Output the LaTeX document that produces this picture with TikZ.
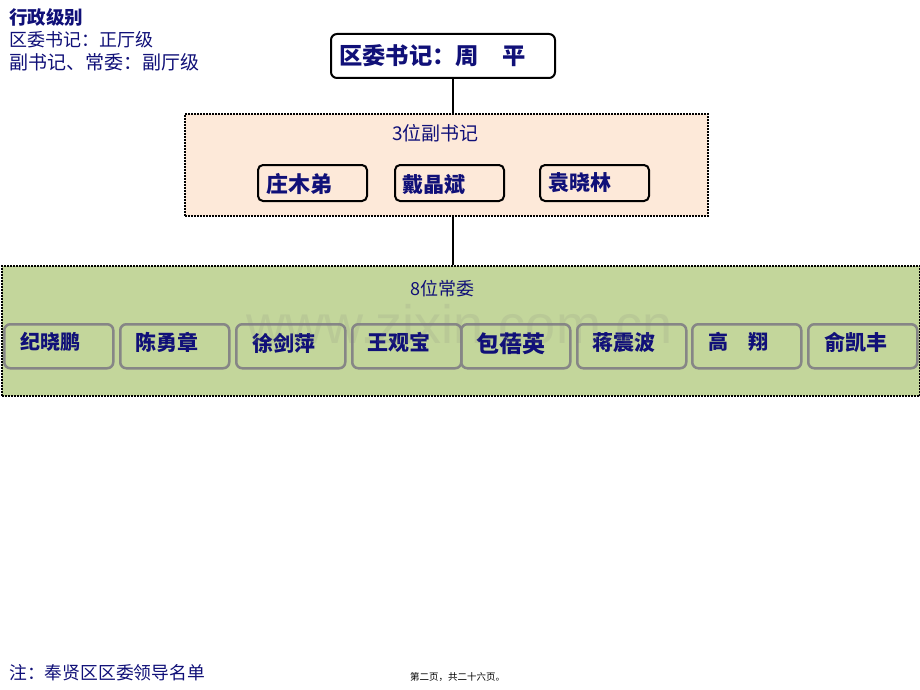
\documentclass[tikz,border=0pt]{standalone}
\usepackage{fontspec}
\setmainfont{Noto Sans CJK SC}
\newfontfamily\wmfont{Liberation Sans}
\definecolor{navy}{RGB}{16,16,120}
\definecolor{peach}{RGB}{253,233,217}
\definecolor{olivegreen}{RGB}{195,214,155}
\begin{document}
\begin{tikzpicture}[x=1pt,y=-1pt,
  namebox/.style={draw=black,line width=2pt,rounded corners=5pt,minimum width=109pt,minimum height=36pt,inner sep=0pt,anchor=north west,fill=peach},
  grbox/.style={draw=gray!95,line width=2.5pt,rounded corners=6pt,minimum width=109pt,minimum height=44pt,inner sep=0pt,anchor=north west},
  grp/.style={draw=black,line width=2pt,dash pattern=on 1.6pt off 1.4pt,inner sep=0pt,anchor=north west},
  nm/.style={text=navy,font=\fontsize{21}{21}\selectfont\bfseries,anchor=west,inner sep=0pt},
  txt/.style={text=navy,anchor=west,inner sep=0pt,font=\fontsize{18}{18}\selectfont},
  conn/.style={draw=black,line width=1.5pt}]
\useasboundingbox[fill=white] (0,0) rectangle (920,690);

% header text
\node[txt,font=\fontsize{18.5}{18.5}\selectfont\bfseries] (h1) at (9,17) {行政级别};
\node[txt] (h2) at (9,40) {区委书记：正厅级};
\node[txt,font=\fontsize{19}{19}\selectfont] (h3) at (9,62) {副书记、常委：副厅级};

% secretary
\node[draw=black,line width=2pt,rounded corners=6pt,fill=white,minimum width=224pt,minimum height=44pt,anchor=north west,inner sep=0pt] (sec) at (330,33) {};
\node[nm,font=\fontsize{23.3}{23.3}\selectfont\bfseries] (sect) at (339,56) {区委书记：周　平};

% group 1
\node[grp,fill=peach,minimum width=523pt,minimum height=102pt] (g1) at (184,113) {};
\node[txt,font=\fontsize{19}{19}\selectfont] (g1t) at (392,133) {3位副书记};
\node[namebox] (d1) at (257,164) {};
\node[namebox] (d2) at (394,164) {};
\node[namebox] (d3) at (539,164) {};
\node[nm,font=\fontsize{22}{22}\selectfont\bfseries] (d1t) at (266,184) {庄木弟};
\node[nm] (d2t) at (402,184) {戴晶斌};
\node[nm] (d3t) at (548,183) {袁晓林};

% group 2
\node[grp,fill=olivegreen,minimum width=918pt,minimum height=130pt] (g2) at (1,265) {};
\node[txt] (g2t) at (410,289) {8位常委};
\node[grbox] (c1) at (3,323) {};
\node[grbox] (c2) at (119,323) {};
\node[grbox] (c3) at (235,323) {};
\node[grbox] (c4) at (351,323) {};
\node[grbox] (c5) at (460,323) {};
\node[grbox] (c6) at (576,323) {};
\node[grbox] (c7) at (691,323) {};
\node[grbox] (c8) at (807,323) {};
\node[nm,font=\fontsize{20}{20}\selectfont\bfseries] (c1t) at (20,342) {纪晓鹏};
\node[nm] (c2t) at (135,342) {陈勇章};
\node[nm] (c3t) at (252,343) {徐剑萍};
\node[nm] (c4t) at (367,342) {王观宝};
\node[nm,font=\fontsize{23}{23}\selectfont\bfseries] (c5t) at (476,344) {包蓓英};
\node[nm] (c6t) at (592,343) {蒋震波};
\node[nm,font=\fontsize{20}{20}\selectfont\bfseries] (c7t) at (708,342) {高　翔};
\node[nm] (c8t) at (824,342) {俞凯丰};

% connectors
\coordinate (lx) at (453,0);
\draw[conn] (sec.south -| lx) -- (g1.north -| lx);
\draw[conn] (g1.south -| lx) -- (g2.north -| lx);

% footer
\node[txt,font=\fontsize{17.8}{17.8}\selectfont] (foot) at (9,673) {注：奉贤区区委领导名单};
\node[anchor=west,inner sep=0pt,font=\fontsize{9.5}{9.5}\selectfont,text=black] (page) at (410,677) {第二页，共二十六页。};

% watermark
\node[text=gray,opacity=0.15,font=\wmfont\fontsize{54}{54}\selectfont,inner sep=0pt] (wm) at (460,324) {www.zixin.com.cn};
\end{tikzpicture}
\end{document}
